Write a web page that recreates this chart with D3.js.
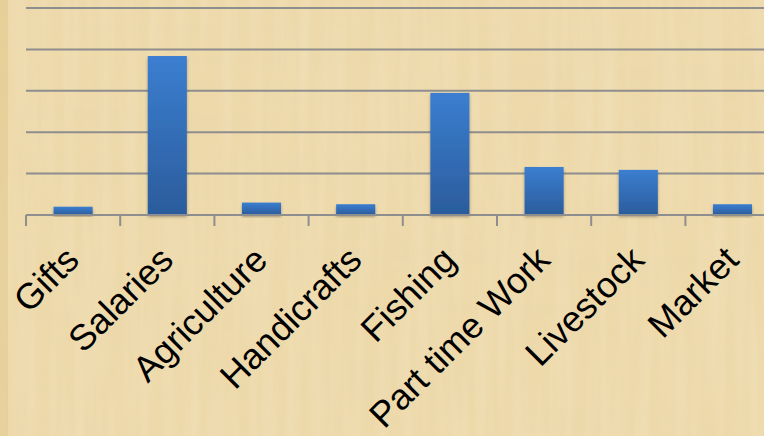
<!DOCTYPE html>
<html><head><meta charset="utf-8">
<script src="https://cdn.jsdelivr.net/npm/d3@7"></script>
<style>html,body{margin:0;padding:0;background:#EDD9AA;overflow:hidden}</style>
</head><body><svg id="c" width="764" height="436"></svg>
<script>
const categories = ["Gifts","Salaries","Agriculture","Handicrafts","Fishing","Part time Work","Livestock","Market"];
const values = [2, 38.4, 3, 2.6, 29.5, 11.6, 10.9, 2.6];
const gridValues = [0,10,20,30,40,50];

const svg = d3.select("#c");
const W = 764, H = 436;
const defs = svg.append("defs");

// parchment texture
const f = defs.append("filter").attr("id","tex").attr("x",0).attr("y",0).attr("width","100%").attr("height","100%");
f.append("feTurbulence").attr("type","fractalNoise").attr("baseFrequency","0.004 0.06").attr("numOctaves",3).attr("seed",4).attr("result","n1");
f.append("feColorMatrix").attr("in","n1").attr("type","matrix")
 .attr("values","0 0 0 0 0.80  0 0 0 0 0.66  0 0 0 0 0.40  0.7 0 0 0 -0.25").attr("result","c1");
f.append("feTurbulence").attr("type","fractalNoise").attr("baseFrequency","0.08 0.005").attr("numOctaves",3).attr("seed",9).attr("result","n2");
f.append("feColorMatrix").attr("in","n2").attr("type","matrix")
 .attr("values","0 0 0 0 0.98  0 0 0 0 0.90  0 0 0 0 0.74  0.6 0 0 0 -0.22").attr("result","c2");
f.append("feMerge").selectAll("feMergeNode").data(["c1","c2"]).join("feMergeNode").attr("in",d=>d);

svg.append("rect").attr("width",W).attr("height",H).attr("fill","#EDD9AA");
svg.append("rect").attr("width",W).attr("height",H).attr("fill","#fff").attr("filter","url(#tex)").attr("opacity",0.6);
svg.append("rect").attr("x",0).attr("y",0).attr("width",8).attr("height",H).attr("fill","#E3C98F").attr("opacity",0.6);

const grad = defs.append("linearGradient").attr("id","bg").attr("x1",0).attr("y1",0).attr("x2",0).attr("y2",1);
grad.append("stop").attr("offset","0%").attr("stop-color","#3B7ED0");
grad.append("stop").attr("offset","100%").attr("stop-color","#2B5C9C");

const sh = defs.append("filter").attr("id","sh").attr("x","-20%").attr("y","-20%").attr("width","140%").attr("height","140%");
sh.append("feDropShadow").attr("dx",0).attr("dy",2).attr("stdDeviation",1.5).attr("flood-color","#000").attr("flood-opacity",0.3);

const x0 = 26, bw = 94.2;
const x = d3.scaleBand().domain(categories).range([x0, x0 + bw*categories.length]).paddingInner(0.585).paddingOuter(0.2925);
const y = d3.scaleLinear().domain([0,50]).range([215,8]);

// gridlines
svg.append("g").selectAll("line").data(gridValues.slice(1)).join("line")
  .attr("x1",x0).attr("x2",W).attr("y1",d=>y(d)).attr("y2",d=>y(d))
  .attr("stroke","#8E8E8E").attr("stroke-width",2);

// bars
svg.append("g").selectAll("rect").data(values).join("rect")
  .attr("x",(d,i)=>x(categories[i])).attr("width",x.bandwidth())
  .attr("y",d=>y(d)).attr("height",d=>y(0)-y(d))
  .attr("fill","url(#bg)").attr("filter","url(#sh)");

// axis
const ax = svg.append("g");
ax.append("line").attr("x1",x0).attr("x2",W).attr("y1",y(0)).attr("y2",y(0)).attr("stroke","#8E8E8E").attr("stroke-width",2);
const ticks = d3.range(categories.length+1).map(i=>x0+i*bw);
ax.selectAll("line.t").data(ticks).join("line").attr("class","t")
  .attr("x1",d=>d).attr("x2",d=>d).attr("y1",y(0)).attr("y2",y(0)+11)
  .attr("stroke","#8E8E8E").attr("stroke-width",2);

// labels
svg.append("g").selectAll("text").data(categories).join("text")
  .attr("transform",d=>`translate(${x(d)+x.bandwidth()/2+8},${y(0)+47}) rotate(-45)`)
  .attr("text-anchor","end")
  .attr("font-family","'Liberation Sans', Arial, sans-serif")
  .attr("font-size",36).attr("fill","#000")
  .text(d=>d);
</script></body></html>
